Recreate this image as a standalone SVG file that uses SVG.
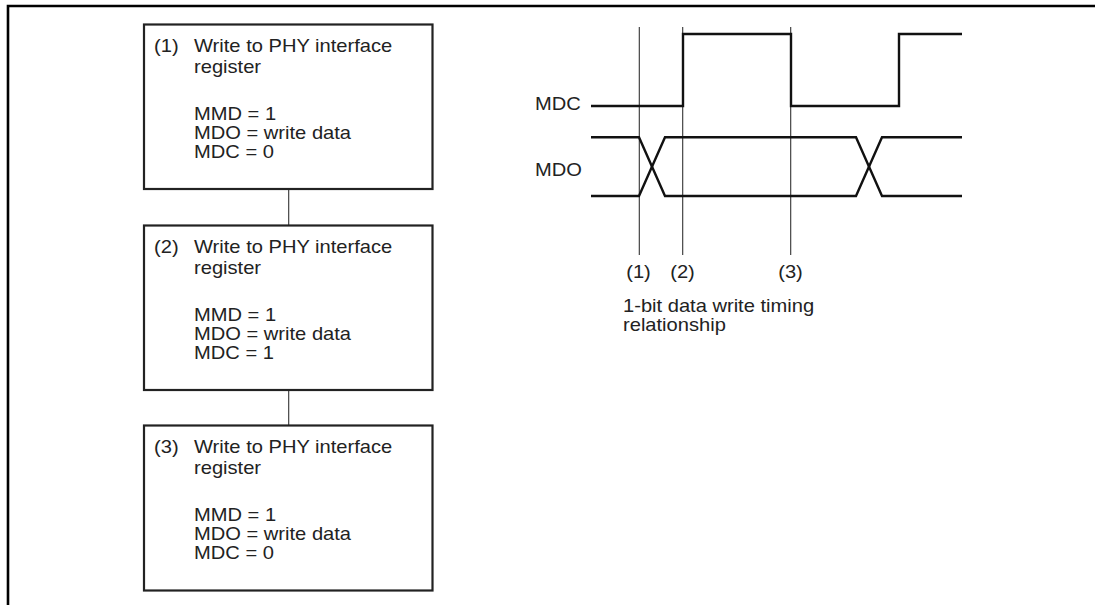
<svg xmlns="http://www.w3.org/2000/svg" width="1095" height="605" viewBox="0 0 1095 605">
<style>
.t{font-family:"Liberation Sans",Arial,sans-serif;font-size:17.5px;fill:#222;}
.box{fill:#fff;stroke:#222;stroke-width:2.2;}
.thin{stroke:#333;stroke-width:1.1;fill:none;}
.wave{stroke:#111;stroke-width:2.4;fill:none;stroke-linejoin:miter;}
.frame{stroke:#000;stroke-width:2.6;fill:none;}
</style>
<rect width="1095" height="605" fill="#fff"/>
<g id="frame">
<polyline class="frame" points="8,605 8,6 1095,6"/>
</g>
<g id="connectors">
<line class="thin" x1="288.7" y1="189" x2="288.7" y2="225"/>
<line class="thin" x1="288.7" y1="390" x2="288.7" y2="425"/>
</g>
<g id="node1">
<rect class="box" x="144" y="24.5" width="288.5" height="164.5"/>
<text class="t" transform="translate(154,52) scale(1.15,1)">(1)</text>
<text class="t" transform="translate(194,52) scale(1.15,1)">Write to PHY interface</text>
<text class="t" transform="translate(194,73) scale(1.15,1)">register</text>
<text class="t" transform="translate(194,120) scale(1.15,1)">MMD = 1</text>
<text class="t" transform="translate(194,139) scale(1.15,1)">MDO = write data</text>
<text class="t" transform="translate(194,158) scale(1.15,1)">MDC = 0</text>
</g>
<g id="node2">
<rect class="box" x="144" y="225.5" width="288.5" height="164.5"/>
<text class="t" transform="translate(154,253) scale(1.15,1)">(2)</text>
<text class="t" transform="translate(194,253) scale(1.15,1)">Write to PHY interface</text>
<text class="t" transform="translate(194,274) scale(1.15,1)">register</text>
<text class="t" transform="translate(194,321) scale(1.15,1)">MMD = 1</text>
<text class="t" transform="translate(194,340) scale(1.15,1)">MDO = write data</text>
<text class="t" transform="translate(194,359) scale(1.15,1)">MDC = 1</text>
</g>
<g id="node3">
<rect class="box" x="144" y="425.5" width="288.5" height="165"/>
<text class="t" transform="translate(154,453) scale(1.15,1)">(3)</text>
<text class="t" transform="translate(194,453) scale(1.15,1)">Write to PHY interface</text>
<text class="t" transform="translate(194,474) scale(1.15,1)">register</text>
<text class="t" transform="translate(194,521) scale(1.15,1)">MMD = 1</text>
<text class="t" transform="translate(194,540) scale(1.15,1)">MDO = write data</text>
<text class="t" transform="translate(194,559) scale(1.15,1)">MDC = 0</text>
</g>
<g id="timing">
<line class="thin" x1="639.3" y1="27" x2="639.3" y2="255"/>
<line class="thin" x1="682.7" y1="27" x2="682.7" y2="255"/>
<line class="thin" x1="790.7" y1="27" x2="790.7" y2="255"/>
<polyline class="wave" points="591,106 683,106 683,34 791,34 791,106 899,106 899,34 962,34"/>
<polyline class="wave" points="591,137.3 639,137.3 665,196 856,196 882,137.3 962,137.3"/>
<polyline class="wave" points="591,196 639,196 665,137.3 856,137.3 882,196 962,196"/>
<text class="t" transform="translate(535,110) scale(1.15,1)">MDC</text>
<text class="t" transform="translate(535,176) scale(1.15,1)">MDO</text>
<text class="t" text-anchor="middle" transform="translate(638.5,278) scale(1.15,1)">(1)</text>
<text class="t" text-anchor="middle" transform="translate(682.5,278) scale(1.15,1)">(2)</text>
<text class="t" text-anchor="middle" transform="translate(790.5,278) scale(1.15,1)">(3)</text>
<text class="t" transform="translate(623,312) scale(1.15,1)">1-bit data write timing</text>
<text class="t" transform="translate(623,331) scale(1.15,1)">relationship</text>
</g>
</svg>
